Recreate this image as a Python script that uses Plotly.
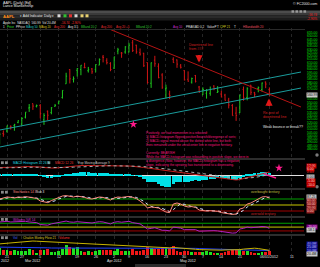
import plotly.graph_objects as go

W, H = 320, 267

# ---------------- data ----------------
dates = ["Feb16", "Feb17", "Feb21", "Feb22", "Feb23", "Feb24", "Feb27", "Feb28", "Feb29",
         "Mar01", "Mar02", "Mar05", "Mar06", "Mar07", "Mar08", "Mar09", "Mar12", "Mar13", "Mar14",
         "Mar15", "Mar16", "Mar19", "Mar20", "Mar21", "Mar22", "Mar23", "Mar26", "Mar27", "Mar28",
         "Mar29", "Mar30",
         "Apr02", "Apr03", "Apr04", "Apr05", "Apr09", "Apr10", "Apr11", "Apr12", "Apr13", "Apr16",
         "Apr17", "Apr18", "Apr19", "Apr20", "Apr23", "Apr24", "Apr25", "Apr26", "Apr27", "Apr30",
         "May01", "May02", "May03", "May04", "May07", "May08", "May09", "May10", "May11", "May14",
         "May15", "May16", "May17", "May18", "May21", "May22", "May23", "May24", "May25", "May29",
         "May30", "May31", "Jun01"]

opens = [491.5, 503.1, 506.9, 513.1, 515.1, 519.7, 517.6, 527.9, 541.6,
         548.2, 544.2, 545.4, 523.7, 536.8, 534.7, 544.2, 548.9, 557.5, 578.1,
         599.6, 584.7, 598.4, 599.5, 602.7, 597.8, 600.5, 599.8, 606.2, 618.4,
         612.8, 608.8,
         601.8, 627.2, 624.4, 626.0, 626.1, 639.9, 636.2, 625.0, 624.1, 610.1,
         578.9, 613.7, 604.5, 591.4, 570.6, 562.6, 615.0, 614.0, 605.0, 597.9,
         584.9, 580.5, 590.5, 573.2, 561.3, 563.8, 563.8, 574.6, 565.0, 562.6,
         561.0, 553.2, 545.3, 533.9, 534.5, 569.6, 557.5, 575.9, 564.6, 570.9,
         569.2, 580.7, 569.2]
highs = [504.9, 507.8, 515.0, 515.5, 517.8, 522.9, 528.0, 535.4, 547.6,
         548.2, 546.8, 547.5, 533.7, 537.8, 542.9, 547.7, 552.0, 568.2, 594.7,
         600.0, 589.2, 601.8, 606.0, 609.7, 603.5, 601.8, 607.2, 616.3, 621.5,
         616.6, 610.6,
         618.8, 632.2, 625.9, 634.7, 639.8, 644.0, 636.9, 631.3, 624.7, 610.3,
         610.0, 620.2, 608.9, 594.0, 576.7, 567.7, 618.0, 614.7, 607.9, 598.4,
         596.8, 587.4, 591.4, 574.8, 572.8, 570.0, 573.9, 575.9, 574.5, 567.5,
         563.0, 556.9, 547.5, 543.4, 561.5, 573.9, 572.8, 576.5, 565.9, 574.0,
         580.0, 581.5, 572.7]
lows = [486.6, 498.3, 504.7, 509.1, 507.4, 518.6, 515.0, 525.9, 535.7,
        538.8, 542.5, 526.0, 516.2, 523.3, 532.1, 543.6, 547.0, 555.8, 578.1,
        578.6, 580.0, 589.0, 591.0, 601.4, 595.0, 593.0, 595.3, 606.1, 610.3,
        607.2, 597.0,
        600.4, 622.5, 617.2, 623.4, 625.3, 626.0, 623.3, 620.5, 603.5, 578.3,
        571.9, 603.7, 586.3, 570.4, 556.0, 555.0, 609.7, 602.1, 601.1, 583.0,
        581.2, 578.4, 580.0, 565.0, 561.2, 555.7, 560.1, 568.4, 564.2, 557.6,
        552.9, 541.0, 530.1, 522.2, 534.1, 552.6, 553.2, 561.2, 558.0, 565.3,
        566.6, 571.5, 560.5]
closes = [502.2, 502.1, 514.9, 513.0, 516.4, 522.4, 525.8, 535.4, 542.4,
          544.5, 545.2, 533.2, 530.3, 530.7, 542.0, 545.2, 552.0, 568.1, 589.6,
          585.6, 585.6, 601.1, 606.0, 602.5, 599.3, 596.1, 607.0, 614.5, 617.6,
          609.9, 599.6,
          618.6, 629.3, 624.3, 633.7, 636.2, 628.4, 626.2, 622.8, 605.2, 580.1,
          609.7, 608.3, 587.4, 573.0, 571.7, 560.3, 610.0, 607.7, 603.0, 584.0,
          582.1, 586.0, 581.8, 565.3, 569.5, 568.2, 569.2, 570.5, 566.7, 558.2,
          553.2, 546.1, 530.1, 530.4, 561.3, 557.0, 570.6, 565.3, 562.3, 572.3,
          579.2, 577.7, 561.0]
volumes = [39, 30, 30, 22, 27, 21, 22, 24, 36,
           27, 13, 29, 30, 35, 19, 18, 21, 33, 56, 45, 40, 44, 24, 19, 20, 17, 22, 27, 26, 29, 29,
           24, 31, 24, 24, 23, 32, 24, 23, 30, 44, 39, 31, 31, 47, 42, 38, 52, 23, 17, 21,
           21, 15, 14, 19, 19, 23, 19, 12, 12, 12, 16, 21, 26, 30, 26, 24, 21, 16, 12, 13, 18, 18,
           20]
vol_avg = [44, 44, 43, 43, 42, 42, 42, 41, 41, 41, 40,
           40, 40, 40, 39, 39, 38,
           38, 39, 40, 41, 41, 41, 40, 40, 40, 40, 40, 39, 39, 39,
           38, 38, 38, 37, 37, 37, 37, 37, 37, 38,
           38, 38, 39, 39, 40, 40, 41, 40, 40, 39, 39, 38, 37, 36,
           35, 34, 33, 32, 31, 30, 29, 29, 29, 28,
           28, 28, 28, 27, 27, 26, 26, 26, 25]
cmf = [62, 64, 66, 70, 72, 74, 76, 77, 78, 78, 77,
       76, 74, 72, 71, 70, 68,
       66, 66, 65, 64, 63, 62, 61, 60, 59, 58, 57, 57, 56, 55,
       55, 54, 54, 53, 52, 51, 50, 49, 48, 46,
       46, 45, 44, 42, 41, 40, 42, 41, 40, 38, 36, 34, 32, 30,
       29, 28, 28, 27, 27, 27, 28, 28, 28, 28,
       30, 33, 36, 37, 38, 36, 32, 28, 26]
macd_hist = [2, 2, 2, 1.5, 1.5, 1.5, 1.5, 2, 2, 1.5, 1,
             -0.5, -1.5, -2, -2, -1.5, -1.5,
             -0.5, 1, 2, 2.5, 3, 3.5, 3.8, 3.5, 3, 3, 3, 3, 2.5, 1.5,
             1.5, 2, 1.5, 1.5, 1.5, 0.5, -0.5, -1.5, -3.5, -6,
             -6, -6.5, -8, -10, -11, -11.5, -8, -6.5, -6, -6, -6, -5, -4.5, -5,
             -4.5, -4, -3.5, -3, -2.5, -2.5, -2.5, -3, -4, -4,
             -2, -1, 1, 2, 2.5, 3, 3.5, 3.5, 3]
macd_line = [8, 8, 8.5, 8.5, 8.5, 8.5, 8.5, 9, 9, 9, 9,
             8.5, 8, 7.5, 7.5, 7.5, 7.5,
             8, 8.5, 9, 9.5, 10, 10, 10, 10, 10, 10, 10, 10, 10, 9.5,
             9.5, 9.5, 9.5, 9.5, 9.5, 9.2, 9, 8.5, 8, 7.5,
             7, 6.5, 6, 5, 4.5, 4, 3.5, 3, 2.5, 2, 1.5, 1, 0.5, 0,
             -0.5, -1, -1.5, -2, -2.5, -3, -3.5, -4, -4.5, -4.5,
             -4, -3, -2, -1, 0, 1, 2, 3, 3.5]
macd_signal = [7.5, 7.5, 7.6, 7.7, 7.8, 7.9, 8, 8.1, 8.2, 8.3, 8.4,
               8.4, 8.3, 8.2, 8.1, 8, 7.9,
               7.9, 8, 8.1, 8.3, 8.5, 8.8, 9, 9.2, 9.4, 9.5, 9.6, 9.7, 9.8, 9.8,
               9.7, 9.7, 9.7, 9.6, 9.6, 9.5, 9.4, 9.2, 8.9, 8.6,
               8.3, 8, 7.6, 7.2, 6.7, 6.2, 5.7, 5.2, 4.7, 4.2, 3.7, 3.2, 2.7, 2.2,
               1.7, 1.2, 0.7, 0.2, -0.3, -0.8, -1.3, -1.8, -2.3, -2.7,
               -3, -3, -2.8, -2.4, -1.9, -1.3, -0.6, 0.2, 0.9]
stoch_k = [80, 85, 90, 88, 85, 90, 88, 92, 88, 85, 83,
           70, 65, 62, 72, 80, 88,
           95, 97, 92, 90, 95, 93, 88, 82, 80, 85, 90, 88, 82, 75,
           85, 90, 88, 92, 93, 88, 82, 70, 55, 35,
           40, 38, 35, 25, 15, 12, 55, 60, 55, 45, 40, 42, 38, 25,
           22, 20, 22, 20, 18, 12, 8, 5, 3, 5,
           30, 35, 55, 60, 70, 82, 90, 92, 85]
stoch_d = [78, 82, 85, 88, 88, 88, 88, 90, 89, 88, 85,
           79, 73, 66, 66, 71, 80,
           88, 93, 95, 93, 92, 93, 92, 88, 83, 82, 85, 88, 87, 82,
           81, 83, 88, 90, 91, 91, 88, 80, 69, 53,
           43, 38, 38, 33, 25, 17, 27, 42, 57, 53, 47, 42, 40, 35,
           28, 22, 21, 21, 20, 17, 13, 8, 5, 4,
           13, 23, 40, 50, 62, 71, 81, 88, 89]
will_r = [-10, -8, -5, -10, -8, -5, -8, -5, -10, -12, -15,
          -30, -35, -35, -25, -20, -10,
          -5, -3, -10, -12, -8, -10, -12, -15, -18, -12, -8, -10, -15, -25,
          -12, -8, -12, -8, -5, -15, -20, -25, -45, -65,
          -60, -55, -65, -75, -75, -80, -50, -55, -58, -70, -70, -68, -70, -82,
          -80, -82, -80, -78, -80, -85, -88, -92, -97, -95,
          -65, -60, -50, -55, -55, -50, -45, -48, -60]

# hand-drawn lines (date index, price)
chan_upper_x = [0.1, 81.55]
chan_upper_y = [508.5, 595.8]
chan_lower_x = [0.1, 81.55]
chan_lower_y = [482.9, 571.7]
down_x = [29.97, 81.55]
down_y = [659.8, 543.1]

tick_idx = [2, 6, 11, 16, 21, 26, 31, 35, 40, 45, 50, 55, 60, 65, 73, 79]
tick_text = ["21", "27", "5", "12", "19", "26", "2", "9", "16", "23", "30", "7", "14", "21",
             "06/01/2012", "11"]
month_idx = [9, 31, 51]
month_text = ["Mar 2012", "Apr 2012", "May 2012"]
price_ticks = [v for v in range(480, 656, 5) if v not in (560, 565)]
last_price = 560.99

# ---------------- helpers ----------------
N = len(dates)
xi = list(range(N))
FONT = "Liberation Sans"


def X(p):
    return p / W


def Y(p):
    return 1 - p / H


fig = go.Figure()

# price
fig.add_trace(go.Ohlc(x=xi, open=opens, high=highs, low=lows, close=closes,
                      increasing=dict(line=dict(color="#1ec81e", width=1)),
                      decreasing=dict(line=dict(color="#d01515", width=1)),
                      tickwidth=0.25, xaxis="x", yaxis="y", showlegend=False, hoverinfo="skip"))
for lx, ly, col in [(chan_upper_x, chan_upper_y, "#1a9c9c"), (chan_lower_x, chan_lower_y, "#1a9c9c"),
                    (down_x, down_y, "#b51414")]:
    fig.add_trace(go.Scatter(x=lx, y=ly, mode="lines", line=dict(color=col, width=1),
                             xaxis="x", yaxis="y", showlegend=False, hoverinfo="skip"))

# MACD
fig.add_trace(go.Bar(x=xi, y=macd_hist, marker=dict(color="#00e0e6", line=dict(width=0)), width=0.95,
                     xaxis="x", yaxis="y2", showlegend=False, hoverinfo="skip"))
fig.add_trace(go.Scatter(x=xi, y=macd_line, mode="lines", line=dict(color="#c81e1e", width=1),
                         xaxis="x", yaxis="y2", showlegend=False, hoverinfo="skip"))
fig.add_trace(go.Scatter(x=xi, y=macd_signal, mode="lines", line=dict(color="#b0b0b0", width=1, dash="dot"),
                         xaxis="x", yaxis="y2", showlegend=False, hoverinfo="skip"))
fig.add_trace(go.Scatter(x=[71.5, 74.8], y=[1.6, -2.5], mode="lines", line=dict(color="#ff1a8c", width=1.5),
                         xaxis="x", yaxis="y2", showlegend=False, hoverinfo="skip"))

# Stochastics
for lvl, col in [(80, "#00a000"), (50, "#c8c800"), (20, "#a00000")]:
    fig.add_trace(go.Scatter(x=[0, 82.4], y=[lvl, lvl], mode="lines", line=dict(color=col, width=1),
                             xaxis="x", yaxis="y3", showlegend=False, hoverinfo="skip"))
fig.add_trace(go.Scatter(x=xi, y=stoch_d, mode="lines", line=dict(color="#cfe6ff", width=1, dash="dot"),
                         xaxis="x", yaxis="y3", showlegend=False, hoverinfo="skip"))
fig.add_trace(go.Scatter(x=xi, y=stoch_k, mode="lines", line=dict(color="#ff8a80", width=1),
                         xaxis="x", yaxis="y3", showlegend=False, hoverinfo="skip"))

# Williams %R
for lvl, col in [(-20, "#00a000"), (-50, "#c8c800"), (-80, "#a00000")]:
    fig.add_trace(go.Scatter(x=[0, 82.4], y=[lvl, lvl], mode="lines", line=dict(color=col, width=1),
                             xaxis="x", yaxis="y4", showlegend=False, hoverinfo="skip"))
fig.add_trace(go.Scatter(x=xi, y=will_r, mode="lines", line=dict(color="#b020c0", width=1),
                         xaxis="x", yaxis="y4", showlegend=False, hoverinfo="skip"))

# Volume
vcol = ["#20e020" if c >= o else "#f01818" for o, c in zip(opens, closes)]
fig.add_trace(go.Bar(x=xi, y=volumes, marker=dict(color=vcol, line=dict(width=0)), width=0.75,
                     xaxis="x", yaxis="y5", showlegend=False, hoverinfo="skip"))
fig.add_trace(go.Scatter(x=xi, y=vol_avg, mode="lines", line=dict(color="#2040ff", width=1),
                         xaxis="x", yaxis="y5", showlegend=False, hoverinfo="skip"))
fig.add_trace(go.Scatter(x=xi, y=cmf, mode="lines", line=dict(color="#c8b400", width=1),
                         xaxis="x", yaxis="y5", showlegend=False, hoverinfo="skip"))

# stars
fig.add_trace(go.Scatter(x=[36.2], y=[517], mode="markers", marker=dict(symbol="star", size=6, color="#ff1a8c"),
                         xaxis="x", yaxis="y", showlegend=False, hoverinfo="skip"))
fig.add_trace(go.Scatter(x=[75.6], y=[7.5], mode="markers", marker=dict(symbol="star", size=6, color="#ff1a8c"),
                         xaxis="x", yaxis="y2", showlegend=False, hoverinfo="skip"))

# ---------------- annotations ----------------
ann = []


def txt(x, y, s, color="#e0e0e0", size=4, xanchor="left", bg=None, xref="paper", yref="paper",
        yanchor="middle"):
    d = dict(x=x, y=y, text=s, showarrow=False, xref=xref, yref=yref, xanchor=xanchor, yanchor=yanchor,
             font=dict(family=FONT, size=size, color=color), borderpad=0)
    if bg:
        d["bgcolor"] = bg
    ann.append(d)


# top titles
txt(X(2), Y(2.7), "AAPL (Daily) [Ed]", "#e8e8e8", 3.6)
txt(X(2), Y(6.3), "Lance Blankenship", "#e8e8e8", 3.6)
txt(X(318), Y(4.3), "© FC2000.com", "#e8e8e8", 3.6, xanchor="right")

# toolbar row
txt(X(2), Y(16), "<b>AAPL</b>", "#ff8c1a", 4.2)
txt(X(19), Y(16), "▾ Add Indicator", "#e8e8e8", 3.4)
txt(X(43), Y(16), "Daily ▾", "#e8e8e8", 3.4)
txt(X(318), Y(15.3), "-16.74", "#ff2020", 3.2, xanchor="right")
txt(X(318), Y(18.6), "-2.90%", "#ff2020", 3.2, xanchor="right")

# info row
txt(X(2), Y(22.6), "Apple Inc  NASDAQ  560.99  Vol 20.4M", "#e0e0e0", 3.0)
txt(X(60), Y(22.6), "-16.74  -2.90%", "#ff3030", 3.0)

# legend row
legend_items = [(2, "1", "#e0e0e0"), (6, "Price", "#30e030"), (15, "PPrice", "#e0e0e0"),
                (25, "MAvg 50", "#20c8c8"), (38, "MAvg 20", "#d8c020"), (53, "Avg 200", "#e03030"),
                (67, "Avg 3.5", "#e0e0e0"), (80, "BBand 20:2", "#30c030"), (100, "Avg 200", "#e03030"),
                (115, "Avg 20 +5", "#e03030"), (135, "BBand 20:2", "#30c030"), (172, "Avg 10", "#d030d0"),
                (185, "PRAK/AD 0.2", "#e0e0e0"), (206, "ValueP", "#e0e0e0"), (215.5, "T", "#e0e0e0"),
                (218.5, "CFP 21", "#d8d020"), (233, "T", "#e0e0e0"), (242, "HBandwidth 20", "#e05060")]
for lx, s, c in legend_items:
    txt(X(lx), Y(26.9), s, c, 3.0)

# panel headers
txt(X(12), Y(162.8), "MACD Histogram 12 26 9", "#20d8e0", 3.2)
txt(X(54), Y(162.8), "MACD 12 26", "#e03030", 3.2)
txt(X(77), Y(162.8), "Exp Moving Average 9", "#c8c8c8", 3.2)
txt(X(12), Y(192.3), "Stochastics 14 3", "#ff8a80", 3.2)
txt(X(35), Y(192.3), "Sub 3", "#e0e0e0", 3.2)
txt(X(12), Y(219.5), "Williams %R 14", "#d030d0", 3.2)
txt(X(12), Y(237.8), "Vol", "#4060ff", 3.2)
txt(X(22), Y(237.8), "Chaikin Money Flow 21", "#d8c020", 3.2)
txt(X(58), Y(237.8), "Volume", "#ff3030", 3.2)

# stochastic zone notes
txt(X(250), Y(192.2), "overbought territory", "#c8c040", 3.3)
txt(X(250), Y(213.6), "oversold territory", "#d02828", 3.3)

# notes on price chart
txt(X(188), Y(45), "Downtrend line", "#d02020", 3.6)
txt(X(188), Y(49.3), "from ###", "#d02020", 3.6)
txt(X(262), Y(112.5), "Re-test of", "#d02020", 3.6)
txt(X(262), Y(116.8), "downtrend line", "#d02020", 3.6)
txt(X(262), Y(127.3), "Weak bounce or break??", "#e8e8e8", 3.6)
ann.append(dict(x=X(199), y=Y(62.5), ax=0, ay=-9, xref="paper", yref="paper", showarrow=True, arrowhead=2,
                arrowsize=0.6, arrowwidth=2.4, arrowcolor="#e01818", text=""))
ann.append(dict(x=X(269), y=Y(98.5), ax=0, ay=9, xref="paper", yref="paper", showarrow=True, arrowhead=2,
                arrowsize=0.6, arrowwidth=2.4, arrowcolor="#e01818", text=""))

note_lines = [(132.7, "Positively, we had momentum in a rebound:"),
              (136.7, "1) MACD-histogram flipped positive/bearish/divergence of sorts;"),
              (140.7, "2) MACD-signal moved above the dotted white line, but both"),
              (144.8, "lines remained under the zero/center line in negative territory."),
              (153.3, "Currently: BEARISH"),
              (157.0, "While the MACD-histogram was rebounding in positive slope, we were in"),
              (161.0, "a divergence. Now, however, the MACD-histogram has a negative"),
              (165.0, "slope, indicating the upswing has transitioned to a downswing.")]
for yy, s in note_lines:
    txt(X(145), Y(yy), s, "#f0167f", 3.2)

# x labels
for i, s in zip(tick_idx, tick_text):
    txt(i, Y(257.3), s, "#e0e0e0", 3.6, xanchor="center", xref="x")
for i, s in zip(month_idx, month_text):
    txt(i, Y(261.3), s, "#e0e0e0", 3.6, xanchor="center", xref="x")
txt(X(0), Y(261.3), "2012", "#e0e0e0", 3.6)

# price highlight label
txt(X(305.5), last_price, "560.99", "#101010", 3.4, bg="#c8c8c8", yref="y")

# right-hand labels for lower panels
for yy, s, fc, bg in [(165.5, "12.00", "#ffd0d0", "#c00000"), (169, "6.00", "#ffd0d0", "#c00000"),
                      (172.3, "2.43", "#ff3030", None), (176.5, "0.00", "#101010", "#c8c8c8"),
                      (181, "-5.00", "#ffd0d0", "#c00000"), (184.6, "-10.0", "#ffd0d0", "#c00000"),
                      (197.3, "87.25", "#101010", "#c8c8c8"), (200.7, "80.00", "#ffc0c0", "#902020"),
                      (204.2, "50.00", "#ffc0c0", "#902020"), (207.6, "20.00", "#ffc0c0", "#902020"),
                      (211, "0.00", "#ffc0c0", "#902020"),
                      (226.5, "-20.00", "#ffd0ff", "#800080"), (230, "-58.1", "#101010", "#c8c8c8"),
                      (243.5, "40.0M", "#c0c0ff", "#101090"), (247, "25.0M", "#c0c0ff", "#101090"),
                      (250.5, "10.0M", "#c0c0ff", "#101090"), (254, "20.4M", "#101010", "#c8c8c8")]:
    txt(X(305.5), Y(yy), s, fc, 3.4, bg=bg)

# ---------------- shapes ----------------
shapes = []
# toolbar gradient
for y0, y1, c in [(10.5, 13, "#4c4c4c"), (13, 15.5, "#3a3a3a"), (15.5, 18, "#2a2a2a"), (18, 20.5, "#1c1c1c")]:
    shapes.append(dict(type="rect", xref="paper", yref="paper", x0=0, x1=1, y0=Y(y1), y1=Y(y0),
                       fillcolor=c, line=dict(width=0), layer="below"))


def box(x0, y0, w, h, c):
    shapes.append(dict(type="rect", xref="paper", yref="paper", x0=X(x0), x1=X(x0 + w), y0=Y(y0 + h),
                       y1=Y(y0), fillcolor=c, line=dict(width=0)))


# toolbar icons
for px_, c in [(57.5, "#d8d8d8"), (63.5, "#30c030"), (69, "#e03030"), (74.5, "#d8d8d8"), (80.5, "#e8d070"),
               (85.5, "#e8d070")]:
    box(px_, 14.3, 3, 3, c)
for px_ in [291.5, 295.5, 299.5, 303.5]:
    box(px_, 10.3, 2.6, 2.4, "#9a9a9a")
# panel header buttons
for yy in [161.3, 190.8, 218, 236.3]:
    box(1, yy, 2.8, 2.8, "#8a8a8a")
    box(5, yy, 2.8, 2.8, "#8a8a8a")
box(47.5, 161.3, 2.8, 2.8, "#8a8a8a")
# resize handles
for yy in [155, 186.7]:
    shapes.append(dict(type="circle", xref="paper", yref="paper", x0=X(315.3), x1=X(318.7), y0=Y(yy + 1.7),
                       y1=Y(yy - 1.7), fillcolor="#7a7a7a", line=dict(width=0)))

for yy, c in [(29.5, "#2a2a2a"), (159, "#5a5a5a"), (189, "#5a5a5a"), (217, "#5a5a5a"), (235, "#5a5a5a")]:
    shapes.append(dict(type="line", xref="paper", yref="paper", x0=0, x1=X(305), y0=Y(yy), y1=Y(yy),
                       line=dict(color=c, width=1)))
shapes.append(dict(type="rect", xref="paper", yref="paper", x0=X(135), x1=X(186), y0=Y(267), y1=Y(264),
                   fillcolor="#2c2c2c", line=dict(width=0)))

# ---------------- layout ----------------
XD = [0, 304 / W]
common_y = dict(showgrid=False, zeroline=False, showticklabels=False, ticks="", fixedrange=True)

fig.update_layout(
    width=W, height=H, margin=dict(l=0, r=0, t=0, b=0),
    paper_bgcolor="#000000", plot_bgcolor="#000000",
    showlegend=False, bargap=0, barmode="overlay",
    font=dict(family=FONT, size=4, color="#e0e0e0"),
    xaxis=dict(domain=XD, range=[0.1, 82.37], anchor="y5", tickvals=tick_idx, showticklabels=False,
               showgrid=True, gridcolor="#262626", griddash="dot", gridwidth=1, zeroline=False, ticks="",
               rangeslider=dict(visible=False), fixedrange=True),
    yaxis=dict(domain=[Y(158), Y(28)], range=[466.3, 662.1], side="right", anchor="x",
               tickvals=price_ticks, ticktext=["%.2f" % v for v in price_ticks],
               tickfont=dict(family=FONT, size=3.4, color="#00e000"), ticks="", ticklabelstandoff=2,
               showgrid=False, zeroline=False, fixedrange=True),
    yaxis2=dict(domain=[Y(188), Y(160)], range=[-12.5, 15.5], anchor="x", **{**common_y, "zeroline": True},
                zerolinecolor="#e0e0e0", zerolinewidth=1),
    yaxis3=dict(domain=[Y(216), Y(190)], range=[-5, 125], anchor="x", **common_y),
    yaxis4=dict(domain=[Y(234), Y(218)], range=[-104, 21], anchor="x", **common_y),
    yaxis5=dict(domain=[Y(255), Y(236)], range=[0, 106], anchor="x", **common_y),
    annotations=ann, shapes=shapes,
)

fig.write_html("out.html")
